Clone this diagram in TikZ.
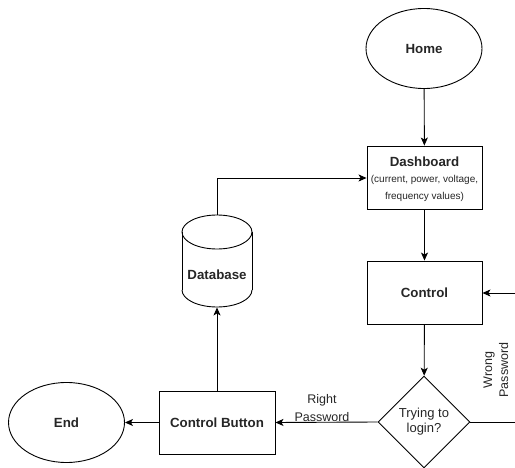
\documentclass[tikz,border=0pt]{standalone}
\usepackage{fontspec}
\setmainfont{Liberation Sans}
\usetikzlibrary{shapes.geometric,arrows.meta}
\begin{document}
\begin{tikzpicture}[x=1pt,y=-1pt,
  line width=0.9pt,
  every node/.style={text=black!85},
  lbl/.style={font=\bfseries\fontsize{13.3}{16}\selectfont},
  reg/.style={font=\fontsize{13}{16}\selectfont, align=center},
  small/.style={font=\fontsize{10}{12}\selectfont},
  boxst/.style={draw, rectangle, minimum width=115pt, minimum height=63pt, inner sep=0pt},
  ovalst/.style={draw, ellipse, minimum width=116pt, minimum height=80pt, inner sep=0pt},
  arr/.style={-{Stealth[length=8pt,width=7pt,inset=2pt]}}
]
\useasboundingbox (0,0) rectangle (515,468);
\clip (0,0) rectangle (515,468);
% nodes
\node[ovalst, lbl] (home) at (424,48.5) {Home};
\node[boxst] (dash) at (424.5,177.5) {};
\node[lbl] (dasht) at (424.5,162) {Dashboard};
\node[small] (dashl1) at (424.5,180) {(current, power, voltage,};
\node[small] (dashl2) at (424.5,197) {frequency values)};
\node[boxst, lbl] (control) at (424.5,292.5) {Control};
\node[draw, diamond, aspect=1, minimum width=92pt, minimum height=92pt, inner sep=0pt, reg] (login) at (424,422) {Trying to\\[-1pt]login?};
\node[boxst, minimum width=116pt, lbl] (cbtn) at (217,422.5) {Control Button};
\node[ovalst, lbl] (end) at (66.5,422.5) {End};
% database cylinder
\node[rectangle, minimum width=70pt, minimum height=92pt, inner sep=0pt] (db) at (217,261) {};
\draw (182,232) -- (182,290);
\draw (252,232) -- (252,290);
\draw (217,232) ellipse [x radius=35pt, y radius=17pt];
\draw (182,290) arc[start angle=180, end angle=0, x radius=35, y radius=17];
\node[lbl] (dbt) at (217,275) {Database};
% loop coordinates
\coordinate (lr) at (545,422);
\coordinate (ur) at (545,293);
% connectors
\draw[arr] (home) -- (dash);
\draw[arr] (dash) -- (control);
\draw[arr] (control) -- (login);
\draw[arr] (login.west) -- (cbtn.east);
\draw[arr] (cbtn.west) -- (end.east);
\draw[arr] (cbtn.north) -- (db.south);
\draw[arr] (db.north) |- (dash.west |- 0,178);
\draw[arr] (login.east) -- (lr) -- (ur) -- (control.east |- ur);
% labels
\node[reg, font=\fontsize{12.5}{18}\selectfont] (rp) at (322,408) {Right\\Password};
\node[reg, font=\fontsize{12.5}{16}\selectfont, rotate=90] (wp) at (496,370) {Wrong\\Password};
\end{tikzpicture}
\end{document}
